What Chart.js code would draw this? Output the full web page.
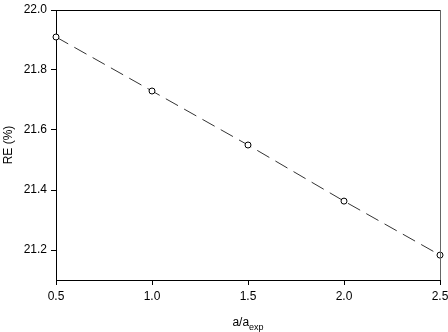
<!DOCTYPE html>
<html>
<head>
<meta charset="utf-8">
<script src="https://cdn.jsdelivr.net/npm/chart.js@4"></script>
<style>
html, body { margin: 0; padding: 0; background: #fff; }
#wrap { width: 448px; height: 332px; }
</style>
</head>
<body>
<div id="wrap"><canvas id="reChart" width="448" height="332"></canvas></div>
<script>
// data
var ratio = [0.5, 1.0, 1.5, 2.0, 2.5];
var reValues = [21.91, 21.73, 21.55, 21.363, 21.183];
var xTicks = [0.5, 1.0, 1.5, 2.0, 2.5];
var yTicks = [21.2, 21.4, 21.6, 21.8, 22.0];

var FONT = "'Liberation Sans', Arial, sans-serif";

// frame + axis titles (x title has a subscript)
var framePlugin = {
  id: "frame",
  afterDraw: function (chart) {
    var ctx = chart.ctx, a = chart.chartArea;
    ctx.save();
    ctx.lineWidth = 1;
    ctx.strokeStyle = "#000";
    ctx.beginPath();
    ctx.moveTo(a.left, a.top + 0.5);
    ctx.lineTo(a.right, a.top + 0.5);
    ctx.stroke();
    ctx.strokeStyle = "#666";
    ctx.beginPath();
    ctx.moveTo(a.right + 0.5, a.top);
    ctx.lineTo(a.right + 0.5, a.bottom);
    ctx.stroke();

    ctx.fillStyle = "#000";
    ctx.textBaseline = "alphabetic";
    ctx.font = "12px " + FONT;
    var main = "a/a";
    var sub = "exp";
    var w1 = ctx.measureText(main).width;
    ctx.font = "9px " + FONT;
    var w2 = ctx.measureText(sub).width;
    var x0 = (a.left + a.right) / 2 - (w1 + w2) / 2;
    ctx.font = "12px " + FONT;
    ctx.fillText(main, x0, 326);
    ctx.font = "9px " + FONT;
    ctx.fillText(sub, x0 + w1, 330);

    ctx.font = "12px " + FONT;
    ctx.translate(12, (a.top + a.bottom) / 2);
    ctx.rotate(-Math.PI / 2);
    ctx.textAlign = "center";
    ctx.fillText("RE (%)", 0, 0);
    ctx.restore();
  }
};

new Chart(document.getElementById("reChart"), {
  type: "line",
  data: {
    datasets: [{
      data: ratio.map(function (x, i) { return { x: x, y: reValues[i] }; }),
      borderColor: "#333",
      borderWidth: 1,
      borderDash: [14, 7],
      pointRadius: 3,
      pointBorderWidth: 1,
      pointBackgroundColor: "#fff",
      pointBorderColor: "#000",
      fill: false,
      tension: 0,
      clip: false
    }]
  },
  options: {
    responsive: false,
    animation: false,
    layout: { padding: { top: 10, right: 8, left: 0, bottom: 0 } },
    plugins: { legend: { display: false }, tooltip: { enabled: false } },
    scales: {
      x: {
        type: "linear",
        min: 0.5,
        max: 2.5,
        afterBuildTicks: function (s) { s.ticks = xTicks.map(function (v) { return { value: v }; }); },
        afterFit: function (s) { s.height = 52; s.paddingRight = 0; s.paddingLeft = 0; },
        ticks: {
          color: "#000",
          font: { family: FONT, size: 12 },
          padding: 4,
          maxRotation: 0,
          callback: function (v) { return v.toFixed(1); }
        },
        grid: { drawOnChartArea: false, tickLength: 5, color: "#000" },
        border: { color: "#000", width: 1 }
      },
      y: {
        min: 21.1,
        max: 22.0,
        afterBuildTicks: function (s) { s.ticks = yTicks.map(function (v) { return { value: v }; }); },
        afterFit: function (s) { s.width = 56; s.paddingTop = 0; s.paddingBottom = 0; },
        ticks: {
          color: "#000",
          font: { family: FONT, size: 12 },
          padding: 4,
          callback: function (v) { return v.toFixed(1); }
        },
        grid: { drawOnChartArea: false, tickLength: 5, color: "#000" },
        border: { color: "#000", width: 1 }
      }
    }
  },
  plugins: [framePlugin]
});
</script>
</body>
</html>
